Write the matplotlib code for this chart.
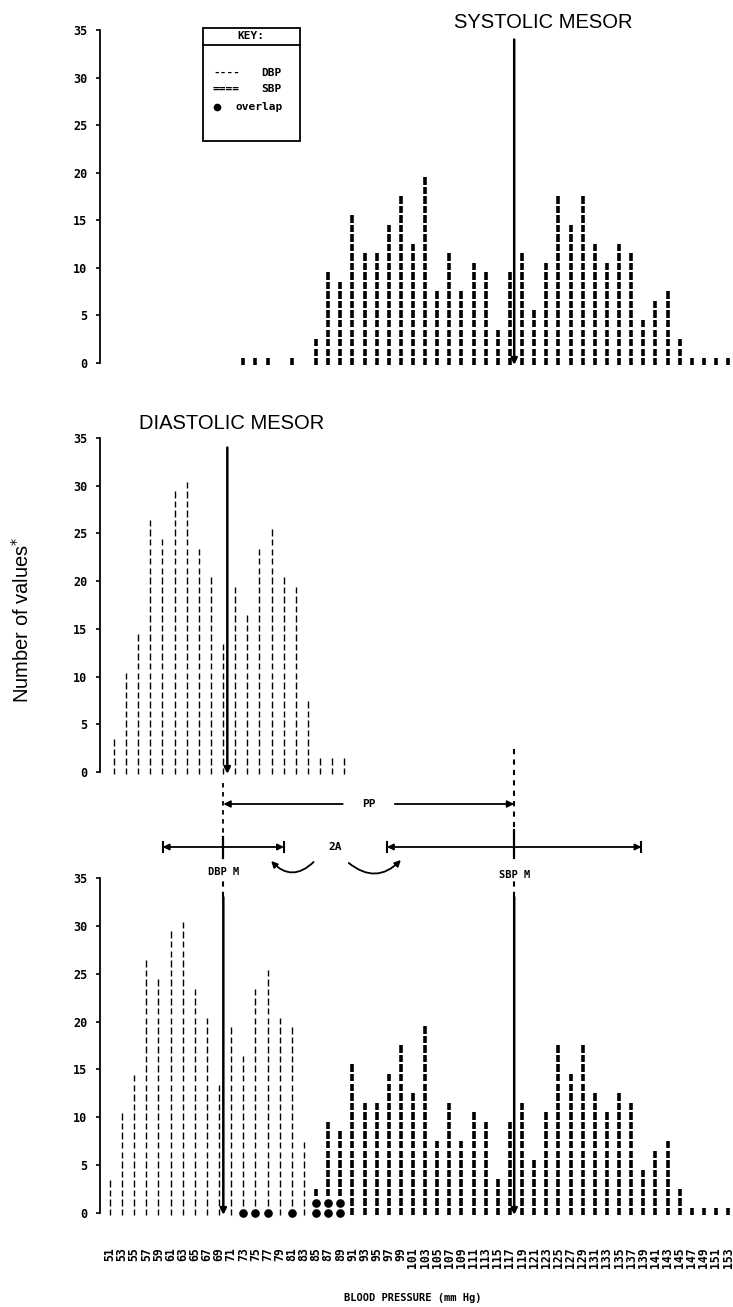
import matplotlib
matplotlib.use("Agg")
import matplotlib.pyplot as plt
import matplotlib.transforms as mtransforms
from matplotlib.collections import LineCollection
from matplotlib.patches import FancyArrowPatch
from matplotlib.lines import Line2D

# ---------------- data ----------------
bp_values = list(range(51, 154, 2))            # 51, 53, ..., 153 mm Hg
bp_labels = [str(v) for v in bp_values]

dbp_values = list(range(51, 90, 2))            # 51 ... 89
dbp_counts = [4, 11, 15, 27, 25, 30, 31, 24, 21, 14,
              20, 17, 24, 26, 21, 20, 8, 2, 2, 2]

sbp_values = bp_values
sbp_counts = [0, 0, 0, 0, 0, 0, 0, 0, 0, 0, 0,          # 51-71
              1, 1, 1, 0, 1, 0, 3, 10, 9, 16,          # 73-91
              12, 12, 15, 18, 13, 20, 8, 12, 8, 11,    # 93-111
              10, 4, 10, 12, 6, 11, 18, 15, 18, 13,    # 113-131
              11, 13, 12, 5, 7, 8, 3, 1, 1, 1, 1]      # 133-153

dbp_mesor = 69.7
sbp_mesor = 117.7
dbp_amplitude = 10
sbp_amplitude = 21
mesor_line_top = 34

y_ticks = [0, 5, 10, 15, 20, 25, 30, 35]

# ---------------- figure ----------------
W, H = 733, 1307
fig = plt.figure(figsize=(W / 100, H / 100), dpi=100)
fig.patch.set_facecolor("white")

MONO = ["DejaVu Sans Mono"]
SANS = ["Liberation Sans", "DejaVu Sans"]

px_per_unit = 6.06           # pixels per mm Hg
first_bar_px = 110


def make_axes(top_px, bottom_px, shift_px=0):
    left_px, right_px = 100, 733
    ax = fig.add_axes([left_px / W, 1 - bottom_px / H,
                       (right_px - left_px) / W, (bottom_px - top_px) / H])
    x0 = bp_values[0] - (first_bar_px + shift_px - left_px) / px_per_unit
    x1 = x0 + (right_px - left_px) / px_per_unit
    ax.set_xlim(x0, x1)
    ax.set_ylim(0, 35)
    for s in ["top", "right", "bottom"]:
        ax.spines[s].set_visible(False)
    ax.spines["left"].set_linewidth(1.3)
    ax.set_yticks(y_ticks)
    ax.set_yticklabels([str(t) for t in y_ticks], family=MONO,
                       fontsize=8.5, fontweight="bold")
    ax.tick_params(axis="y", direction="out", length=3, width=1.2, pad=6)
    ax.tick_params(axis="x", length=0)
    ax.set_xticks([])
    ax.patch.set_alpha(0)
    return ax


ax_top = make_axes(30, 363)
ax_mid = make_axes(438, 772, shift_px=4)
ax_bot = make_axes(878, 1213)


def marks(ax, xs, counts, kind, skip=None):
    segs = []
    for i, (x, n) in enumerate(zip(xs, counts)):
        start = 0 if skip is None else skip[i]
        for k in range(start, n):
            if kind == "dbp":
                segs.append([(x, k - 0.25), (x, k + 0.42)])
            else:
                segs.append([(x, k - 0.25), (x, k + 0.52)])
    lw = 1.0 if kind == "dbp" else 2.6
    lc = LineCollection(segs, colors="black", linewidths=lw,
                        capstyle="butt", clip_on=False)
    ax.add_collection(lc)


def mesor(ax, x, top, dashed_top=None):
    ax.annotate("", xy=(x, -0.2), xytext=(x, top),
                arrowprops=dict(arrowstyle="-|>", lw=1.8, color="black",
                                mutation_scale=9, shrinkA=0, shrinkB=0),
                annotation_clip=False)
    if dashed_top is not None:
        ax.plot([x, x], [top, dashed_top], color="black", lw=1.5,
                ls=(0, (2.5, 2.5)), clip_on=False)


# top: systolic
marks(ax_top, sbp_values, sbp_counts, "sbp")
mesor(ax_top, sbp_mesor, mesor_line_top)

# middle: diastolic
marks(ax_mid, dbp_values, dbp_counts, "dbp")
mesor(ax_mid, dbp_mesor, mesor_line_top)

# bottom: both, overlap dots
dbp_full = [dbp_counts[dbp_values.index(v)] if v in dbp_values else 0
            for v in bp_values]
overlap = [min(d, s) for d, s in zip(dbp_full, sbp_counts)]
marks(ax_bot, bp_values, dbp_full, "dbp", skip=overlap)
marks(ax_bot, bp_values, sbp_counts, "sbp", skip=overlap)
ox, oy = [], []
for x, n in zip(bp_values, overlap):
    for k in range(n):
        ox.append(x)
        oy.append(k + 0.05)
ax_bot.plot(ox, oy, "o", color="black", ms=5.2, clip_on=False)
mesor(ax_bot, dbp_mesor, 33, dashed_top=34.8)
mesor(ax_bot, sbp_mesor, 33, dashed_top=34.8)

ax_bot.set_xticks(bp_values)
ax_bot.set_xticklabels(bp_labels, rotation=90, family=MONO, fontsize=8.3,
                       fontweight="bold")
ax_bot.tick_params(axis="x", length=0, pad=25)

# ---------------- text ----------------
fig_px = mtransforms.Affine2D().scale(1 / W, -1 / H).translate(0, 1) + fig.transFigure


def ftext(x, y, s, **kw):
    fig.text(x / W, 1 - y / H, s, **kw)


ftext(543, 22, "SYSTOLIC MESOR", family=SANS, fontsize=14.5,
      ha="center", va="center")
ftext(232, 424, "DIASTOLIC MESOR", family=SANS, fontsize=14.5,
      ha="center", va="center")
ftext(22, 620, "Number of values$^{*}$", family=SANS, fontsize=14.5,
      rotation=90, ha="center", va="center")
ftext(413, 1298, "BLOOD PRESSURE (mm Hg)", family=MONO, fontsize=7.5,
      fontweight="bold", ha="center", va="center")

# key box
fig.add_artist(plt.Rectangle((203 / W, 1 - 141 / H), 97 / W, 113 / H,
                             transform=fig.transFigure, fill=False,
                             lw=1.3, color="black"))
fig.add_artist(Line2D([203 / W, 300 / W], [1 - 45 / H, 1 - 45 / H],
                      transform=fig.transFigure, lw=1.3, color="black"))
ftext(251, 36, "KEY:", family=MONO, fontsize=8, fontweight="bold",
      ha="center", va="center")
ftext(213, 73, "----", family=MONO, fontsize=8, fontweight="bold", va="center")
ftext(261, 73, "DBP", family=MONO, fontsize=8, fontweight="bold", va="center")
ftext(213, 89, "====", family=MONO, fontsize=8, fontweight="bold", va="center")
ftext(261, 89, "SBP", family=MONO, fontsize=8, fontweight="bold", va="center")
fig.add_artist(Line2D([217 / W], [1 - 107 / H], marker="o", ms=4.5,
                      color="black", transform=fig.transFigure))
ftext(236, 107, "overlap", family=MONO, fontsize=8, fontweight="bold",
      va="center")

# ---------------- mesor / amplitude annotation ----------------
bl = mtransforms.blended_transform_factory(ax_bot.transData, fig_px)

def fline(xs, ys, **kw):
    fig.add_artist(Line2D(xs, ys, transform=bl, color="black", **kw))

# vertical connectors
fline([dbp_mesor, dbp_mesor], [783, 837], lw=1.3, ls=(0, (2.5, 2.5)))
fline([dbp_mesor, dbp_mesor], [837, 858], lw=1.6)
fline([sbp_mesor, sbp_mesor], [749, 830], lw=1.5, ls=(0, (2.5, 2.5)))
fline([sbp_mesor, sbp_mesor], [830, 858], lw=1.6)

# PP arrow
pp_mid = (dbp_mesor + sbp_mesor) / 2
for end, start in [(dbp_mesor, pp_mid - 4.3), (sbp_mesor, pp_mid + 4.3)]:
    fig.add_artist(FancyArrowPatch((start, 804), (end, 804), transform=bl,
                                   arrowstyle="-|>", mutation_scale=10,
                                   lw=1.3, color="black", shrinkA=0, shrinkB=0))
fig.text(pp_mid, 804, "PP", transform=bl, family=MONO, fontsize=8,
         fontweight="bold", ha="center", va="center")

# amplitude ranges
for m, a in [(dbp_mesor, dbp_amplitude), (sbp_mesor, sbp_amplitude)]:
    fig.add_artist(FancyArrowPatch((m - a, 847), (m + a, 847), transform=bl,
                                   arrowstyle="<|-|>", mutation_scale=9,
                                   lw=1.3, color="black", shrinkA=0, shrinkB=0))
    for e in (m - a, m + a):
        fline([e, e], [842, 852], lw=1.5)

gap_mid = ((dbp_mesor + dbp_amplitude) + (sbp_mesor - sbp_amplitude)) / 2
fig.text(gap_mid, 847, "2A", transform=bl, family=MONO, fontsize=8,
         fontweight="bold", ha="center", va="center")
fig.add_artist(FancyArrowPatch((gap_mid - 3.6, 862),
                               (dbp_mesor + dbp_amplitude - 2.1, 861),
                               transform=bl, connectionstyle="arc3,rad=-0.5",
                               arrowstyle="-|>", mutation_scale=9, lw=1.3,
                               color="black", shrinkA=0, shrinkB=0))
fig.add_artist(FancyArrowPatch((gap_mid + 2.2, 863),
                               (sbp_mesor - sbp_amplitude + 2.3, 860),
                               transform=bl, connectionstyle="arc3,rad=0.45",
                               arrowstyle="-|>", mutation_scale=9, lw=1.3,
                               color="black", shrinkA=0, shrinkB=0))

fig.text(dbp_mesor, 872, "DBP M", transform=bl, family=MONO, fontsize=7.5,
         fontweight="bold", ha="center", va="center")
fig.text(sbp_mesor, 875, "SBP M", transform=bl, family=MONO, fontsize=7.5,
         fontweight="bold", ha="center", va="center")

fig.savefig("out.png", dpi=100, facecolor="white")
